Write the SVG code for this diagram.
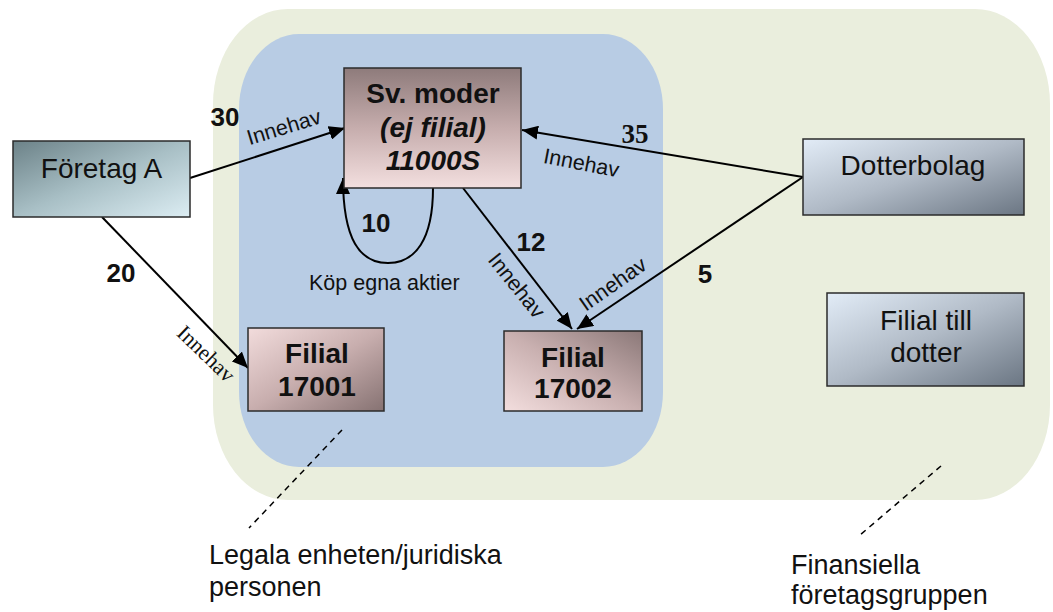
<svg xmlns="http://www.w3.org/2000/svg" width="1053" height="612" viewBox="0 0 1053 612">
<defs>
<linearGradient id="gTeal" x1="0" y1="0" x2="1" y2="1"><stop offset="0" stop-color="#6c8288"/><stop offset="0.5" stop-color="#a8bfc5"/><stop offset="1" stop-color="#dcedf3"/></linearGradient>
<linearGradient id="gModer" x1="0" y1="0" x2="0" y2="1"><stop offset="0" stop-color="#8e7b7b"/><stop offset="0.5" stop-color="#c6adad"/><stop offset="1" stop-color="#f3dfdf"/></linearGradient>
<linearGradient id="gF1" x1="0" y1="0" x2="1" y2="1"><stop offset="0" stop-color="#f2dcdc"/><stop offset="0.5" stop-color="#c8aeae"/><stop offset="1" stop-color="#867272"/></linearGradient>
<linearGradient id="gF2" x1="0" y1="1" x2="1" y2="0"><stop offset="0" stop-color="#f3dede"/><stop offset="0.5" stop-color="#c9b0b0"/><stop offset="1" stop-color="#8b7878"/></linearGradient>
<linearGradient id="gBlue" x1="0" y1="0" x2="1" y2="1"><stop offset="0" stop-color="#e2ecf7"/><stop offset="0.5" stop-color="#b0bac6"/><stop offset="1" stop-color="#6b7683"/></linearGradient>
<marker id="arr" viewBox="0 0 10 10" refX="10" refY="5" markerWidth="16" markerHeight="14" markerUnits="userSpaceOnUse" orient="auto" preserveAspectRatio="none"><path d="M0,0 L10,5 L0,10 Z" fill="#000"/></marker>
<style>
.box{stroke:#2b2b2b;stroke-width:1.5}
.t{font-family:"Liberation Sans",Arial,sans-serif;font-size:28px;fill:#111;text-anchor:middle}
.b{font-weight:bold}
.i{font-style:italic}
.lbl{font-family:"Liberation Sans",Arial,sans-serif;font-size:21.5px;fill:#111}
.num{font-family:"Liberation Sans",Arial,sans-serif;font-size:26px;font-weight:bold;fill:#111;text-anchor:middle}
.cap{font-family:"Liberation Sans",Arial,sans-serif;font-size:27px;fill:#111}
.edge{stroke:#000;stroke-width:2;fill:none;marker-end:url(#arr)}
.dash{stroke:#000;stroke-width:1.5;stroke-dasharray:6,5;fill:none}
</style>
</defs>
<g id="finansiella-gruppen">
<path d="M288,9 H975 A75,95 0 0 1 1050,104 V405 A75,95 0 0 1 975,500 H288 A75,95 0 0 1 213,405 V104 A75,95 0 0 1 288,9 Z" fill="#eaeedd"/>
</g>
<g id="legala-enheten">
<path d="M299,34 H603 A60,75 0 0 1 663,109 V392 A60,75 0 0 1 603,467 H299 A60,75 0 0 1 239,392 V109 A60,75 0 0 1 299,34 Z" fill="#b8cce4"/>
</g>
<g id="connectors">
<path class="edge" d="M190,178 L345,128"/>
<path class="edge" d="M102,217 L248,368"/>
<path class="edge" d="M433,188 C433,240 415,263 388,263 C360,263 343,240 343,178"/>
<path class="edge" d="M463,188 L572,329"/>
<path class="edge" d="M803,177 L522,130"/>
<path class="edge" d="M803,177 L577,329"/>
<path class="dash" d="M342,430 L249,528"/>
<path class="dash" d="M941,466 L860,535"/>
<text class="num" x="225" y="126">30</text>
<text class="lbl" text-anchor="middle" transform="translate(286,134) rotate(-17)">Innehav</text>
<text class="num" x="121" y="282">20</text>
<text font-family="'Liberation Serif','Times New Roman',serif" font-size="22" fill="#111" text-anchor="middle" transform="translate(201,359) rotate(44)">Innehav</text>
<text class="num" x="376" y="232">10</text>
<text class="lbl" x="309" y="290">Köp egna aktier</text>
<text class="num" x="531" y="251">12</text>
<text class="lbl" text-anchor="middle" transform="translate(511,290) rotate(51)">Innehav</text>
<text x="635" y="143" font-family="'Liberation Serif','Times New Roman',serif" font-size="27" font-weight="bold" fill="#111" text-anchor="middle">35</text>
<text class="lbl" text-anchor="middle" transform="translate(580,170) rotate(11)">Innehav</text>
<text class="num" x="705" y="283">5</text>
<text class="lbl" text-anchor="middle" transform="translate(617,290) rotate(-35)">Innehav</text>
</g>
<g id="foretag-a">
<rect class="box" x="13" y="141" width="177" height="76" fill="url(#gTeal)"/>
<text class="t" x="101.5" y="178">Företag A</text>
</g>
<g id="sv-moder">
<rect class="box" x="344" y="68" width="177" height="120" fill="url(#gModer)"/>
<text class="t b" x="433" y="103">Sv. moder</text>
<text class="t b i" x="433" y="137">(ej filial)</text>
<text class="t b i" x="433" y="170">11000S</text>
</g>
<g id="filial-17001">
<rect class="box" x="248" y="328" width="136" height="83" fill="url(#gF1)"/>
<text class="t b" x="317" y="363">Filial</text>
<text class="t b" x="317" y="396">17001</text>
</g>
<g id="filial-17002">
<rect class="box" x="504" y="331" width="138" height="80" fill="url(#gF2)"/>
<text class="t b" x="573" y="367">Filial</text>
<text class="t b" x="573" y="398">17002</text>
</g>
<g id="dotterbolag">
<rect class="box" x="803" y="139" width="221" height="76" fill="url(#gBlue)"/>
<text class="t" x="913" y="175">Dotterbolag</text>
</g>
<g id="filial-till-dotter">
<rect class="box" x="827" y="293" width="197" height="93" fill="url(#gBlue)"/>
<text class="t" x="926" y="330">Filial till</text>
<text class="t" x="926" y="362">dotter</text>
</g>
<g id="captions">
<text class="cap" x="209" y="564">Legala enheten/juridiska</text>
<text class="cap" x="209" y="596">personen</text>
<text class="cap" x="791" y="574">Finansiella</text>
<text class="cap" x="791" y="604">företagsgruppen</text>
</g>
</svg>
